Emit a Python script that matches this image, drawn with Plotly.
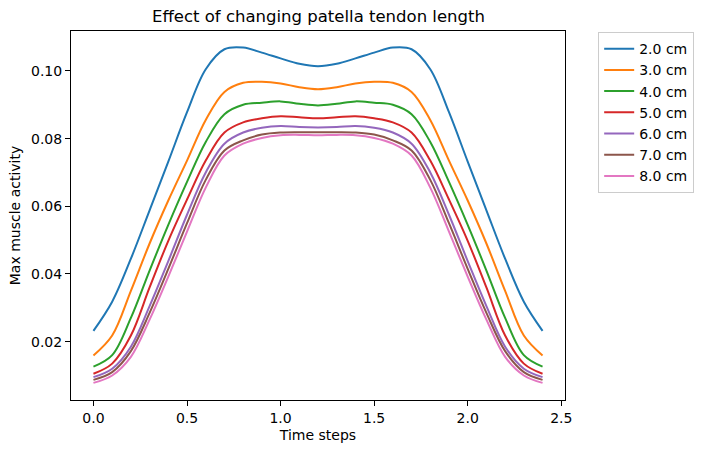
import plotly.graph_objects as go

time_steps = [0.0, 0.1, 0.2, 0.3, 0.4, 0.5, 0.6, 0.7, 0.8, 0.9, 1.0, 1.1, 1.2,
              1.3, 1.4, 1.5, 1.6, 1.7, 1.8, 1.9, 2.0, 2.1, 2.2, 2.3, 2.4]

labels = ["2.0 cm", "3.0 cm", "4.0 cm", "5.0 cm", "6.0 cm", "7.0 cm", "8.0 cm"]

act_2cm = [0.0232, 0.0318, 0.0445, 0.0588, 0.0732, 0.0878, 0.1005, 0.1064, 0.1069, 0.1054, 0.1037, 0.1021, 0.1014,
           0.1021, 0.1037, 0.1054, 0.1069, 0.1064, 0.1005, 0.0878, 0.0732, 0.0588, 0.0445, 0.0318, 0.0232]
act_3cm = [0.0159, 0.0218, 0.0350, 0.0490, 0.0617, 0.0735, 0.0855, 0.0938, 0.0965, 0.0968, 0.0963, 0.0952, 0.0946,
           0.0952, 0.0963, 0.0968, 0.0965, 0.0938, 0.0855, 0.0735, 0.0617, 0.0490, 0.0350, 0.0218, 0.0159]
act_4cm = [0.0126, 0.0160, 0.0270, 0.0410, 0.0545, 0.0672, 0.0790, 0.0872, 0.0900, 0.0906, 0.0910, 0.0903, 0.0898,
           0.0903, 0.0910, 0.0906, 0.0900, 0.0872, 0.0790, 0.0672, 0.0545, 0.0410, 0.0270, 0.0160, 0.0126]
act_5cm = [0.0105, 0.0135, 0.0218, 0.0360, 0.0498, 0.0620, 0.0735, 0.0818, 0.0848, 0.0860, 0.0866, 0.0863, 0.0860,
           0.0863, 0.0866, 0.0860, 0.0848, 0.0818, 0.0735, 0.0620, 0.0498, 0.0360, 0.0218, 0.0135, 0.0105]
act_6cm = [0.0095, 0.0120, 0.0185, 0.0305, 0.0438, 0.0575, 0.0700, 0.0785, 0.0818, 0.0832, 0.0837, 0.0834, 0.0833,
           0.0834, 0.0837, 0.0832, 0.0818, 0.0785, 0.0700, 0.0575, 0.0438, 0.0305, 0.0185, 0.0120, 0.0095]
act_7cm = [0.0087, 0.0110, 0.0172, 0.0285, 0.0415, 0.0550, 0.0678, 0.0765, 0.0795, 0.0812, 0.0818, 0.0819, 0.0819,
           0.0819, 0.0818, 0.0812, 0.0795, 0.0765, 0.0678, 0.0550, 0.0415, 0.0285, 0.0172, 0.0110, 0.0087]
act_8cm = [0.0078, 0.0100, 0.0155, 0.0265, 0.0392, 0.0525, 0.0655, 0.0750, 0.0785, 0.0802, 0.0810, 0.0811, 0.0810,
           0.0811, 0.0810, 0.0802, 0.0785, 0.0750, 0.0655, 0.0525, 0.0392, 0.0265, 0.0155, 0.0100, 0.0078]

series = [act_2cm, act_3cm, act_4cm, act_5cm, act_6cm, act_7cm, act_8cm]
colors = ["#1f77b4", "#ff7f0e", "#2ca02c", "#d62728", "#9467bd", "#8c564b", "#e377c2"]

fig = go.Figure()
for lab, vals, col in zip(labels, series, colors):
    fig.add_trace(go.Scatter(x=time_steps, y=vals, mode="lines", name=lab,
                             line=dict(color=col, width=2, shape="spline", smoothing=1.0)))

font_family = "DejaVu Sans"
W, H = 705, 453
L, R, T, B = 71, 139, 31, 53
fig.update_layout(
    width=W, height=H,
    margin=dict(l=L, r=R, t=T, b=B),
    paper_bgcolor="white", plot_bgcolor="white",
    font=dict(family=font_family, size=14, color="black"),
    title=dict(text="Effect of changing patella tendon length",
               x=(L + (W - R)) / 2 / W, xanchor="center",
               y=1 - 16 / H, yanchor="middle",
               font=dict(size=16.5, family=font_family, color="black")),
    legend=dict(x=1.065, y=0.997, xanchor="left", yanchor="top",
                bordercolor="#cccccc", borderwidth=1, bgcolor="white",
                font=dict(size=14, family=font_family), tracegroupgap=0),
    showlegend=True,
)
fig.update_xaxes(range=[-0.12, 2.52], tickvals=[0.0, 0.5, 1.0, 1.5, 2.0, 2.5],
                 ticktext=["0.0", "0.5", "1.0", "1.5", "2.0", "2.5"],
                 ticks="outside", ticklen=5, tickwidth=1, tickcolor="black",
                 showline=True, linecolor="black", linewidth=1, mirror=True,
                 showgrid=False, zeroline=False,
                 title=dict(text="Time steps", font=dict(size=14), standoff=5))
fig.update_yaxes(range=[0.00275, 0.1118], tickvals=[0.02, 0.04, 0.06, 0.08, 0.10],
                 ticktext=["0.02", "0.04", "0.06", "0.08", "0.10"],
                 ticks="outside", ticklen=5, tickwidth=1, tickcolor="black",
                 showline=True, linecolor="black", linewidth=1, mirror=True,
                 showgrid=False, zeroline=False,
                 title=dict(text="Max muscle activity", font=dict(size=14), standoff=7))

fig.write_html("out.html", config={"displayModeBar": False},
               post_script="document.body.style.margin='0px';")
